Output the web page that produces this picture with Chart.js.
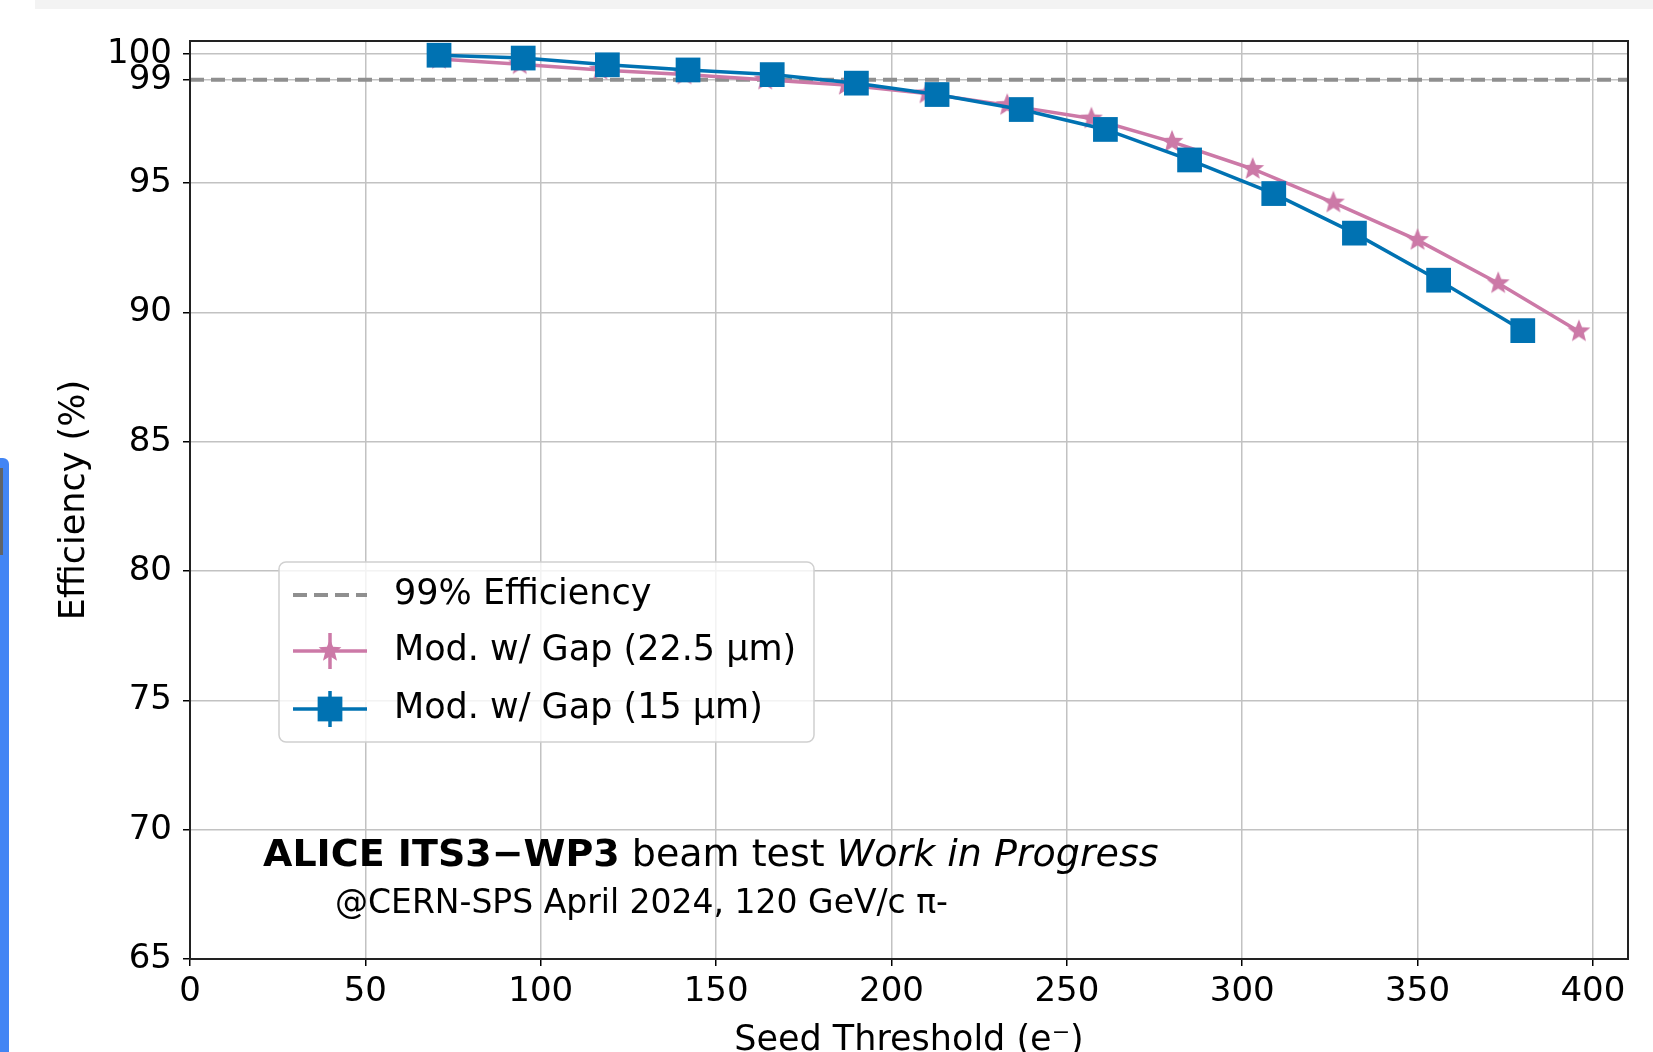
<!DOCTYPE html>
<html>
<head>
<meta charset="utf-8">
<script src="https://cdn.jsdelivr.net/npm/chart.js@4.4.1/dist/chart.umd.min.js"></script>
<style>
  html, body { margin: 0; padding: 0; background: #fff; overflow: hidden; }
  #wrap { position: relative; width: 1653px; height: 1052px; }
  #topband { position: absolute; left: 35px; top: 0; width: 1618px; height: 9px; background: #f3f3f3; }
  #sidebar { position: absolute; left: 0; top: 458px; width: 9px; height: 594px; background: #4285f4; border-top-right-radius: 6px; }
  #sidebar-tab { position: absolute; left: 0; top: 468px; width: 3px; height: 87px; background: #5f6368; }
</style>
</head>
<body>
<div id="wrap">
  <canvas id="chart" width="1653" height="1052"></canvas>
  <div id="topband"></div>
  <div id="sidebar"></div>
  <div id="sidebar-tab"></div>
</div>
<script>
// axis ticks
const xTicks = [0, 50, 100, 150, 200, 250, 300, 350, 400];
const yTicks = [65, 70, 75, 80, 85, 90, 95, 99, 100];

// 99% reference level
const effLevel = 99;

// Mod. w/ Gap (22.5 um)
const gap225Threshold = [71, 94, 117, 141, 164, 187, 210, 233, 257, 280, 303, 326, 350, 373, 396];
const gap225Eff = [99.8, 99.6, 99.38, 99.2, 99.0, 98.8, 98.47, 98.02, 97.5, 96.6, 95.55, 94.25, 92.8, 91.13, 89.27];

// Mod. w/ Gap (15 um)
const gap15Threshold = [71, 95, 119, 142, 166, 190, 213, 237, 261, 285, 309, 332, 356, 380];
const gap15Eff = [99.95, 99.84, 99.58, 99.38, 99.2, 98.87, 98.43, 97.85, 97.08, 95.9, 94.6, 93.07, 91.25, 89.3];

const pink = '#cc79a7';
const blue = '#0072b2';

function makeStar(color, rOuter, rInner) {
  const size = Math.ceil(rOuter * 2 + 4);
  const c = document.createElement('canvas');
  c.width = size; c.height = size;
  const g = c.getContext('2d');
  g.translate(size / 2, size / 2);
  g.beginPath();
  for (let i = 0; i < 10; i++) {
    const a = -Math.PI / 2 + i * Math.PI / 5;
    const r = i % 2 ? rInner : rOuter;
    g.lineTo(Math.cos(a) * r, Math.sin(a) * r);
  }
  g.closePath();
  g.fillStyle = color;
  g.fill();
  return c;
}
const starImg = makeStar(pink, 12, 5.2);

function pts(xs, ys) {
  return xs.map((x, i) => ({ x: x, y: ys[i] }));
}

Chart.defaults.font.family = 'DejaVu Sans';
Chart.defaults.color = '#000';

// frame, legend and annotation text
const decorPlugin = {
  id: 'decor',
  afterDraw(chart) {
    const ctx = chart.ctx;
    const a = chart.chartArea;
    ctx.save();
    ctx.strokeStyle = '#222';
    ctx.lineWidth = 2;
    ctx.strokeRect(a.left, a.top, a.right - a.left, a.bottom - a.top);

    // legend box
    const bx = a.left + 89, by = a.top + 521, bw = 535, bh = 180, rr = 7;
    ctx.beginPath();
    ctx.roundRect(bx, by, bw, bh, rr);
    ctx.fillStyle = 'rgba(255,255,255,0.8)';
    ctx.fill();
    ctx.strokeStyle = '#d0d0d0';
    ctx.lineWidth = 1.5;
    ctx.stroke();

    const rows = [by + 33, by + 89, by + 147];
    const hx0 = bx + 14, hx1 = bx + 88, hc = (hx0 + hx1) / 2;
    chart.data.datasets.forEach((ds, i) => {
      const y = rows[i];
      ctx.save();
      ctx.strokeStyle = ds.borderColor;
      ctx.lineWidth = ds.borderWidth;
      ctx.setLineDash(ds.borderDash || []);
      ctx.beginPath();
      ctx.moveTo(hx0, y);
      ctx.lineTo(hx1, y);
      ctx.stroke();
      ctx.setLineDash([]);
      if (ds.pointRadius > 0) {
        ctx.beginPath();
        ctx.moveTo(hc, y - 18);
        ctx.lineTo(hc, y + 18);
        ctx.stroke();
        if (ds.pointStyle === 'rect') {
          const s = ds.pointRadius * Math.SQRT1_2;
          ctx.fillStyle = ds.backgroundColor;
          ctx.fillRect(hc - s, y - s, 2 * s, 2 * s);
        } else {
          ctx.drawImage(ds.pointStyle, hc - ds.pointStyle.width / 2, y - ds.pointStyle.height / 2);
        }
      }
      ctx.restore();
      ctx.fillStyle = '#000';
      ctx.font = '35px "DejaVu Sans"';
      ctx.textBaseline = 'middle';
      ctx.textAlign = 'left';
      ctx.fillText(ds.label, bx + 115, y);
    });

    // beam test annotation
    let tx = a.left + 73;
    const ty = a.top + 825;
    ctx.textBaseline = 'alphabetic';
    ctx.fillStyle = '#000';
    const parts = [
      ['bold 38px "DejaVu Sans"', 'ALICE ITS3\u2212WP3'],
      ['38px "DejaVu Sans"', ' beam test '],
      ['italic 38px "DejaVu Sans"', 'Work in Progress']
    ];
    parts.forEach(p => {
      ctx.font = p[0];
      ctx.fillText(p[1], tx, ty);
      tx += ctx.measureText(p[1]).width;
    });
    ctx.font = '33px "DejaVu Sans"';
    ctx.fillText('@CERN-SPS April 2024, 120 GeV/c \u03c0-', a.left + 145, a.top + 872);
    ctx.restore();
  }
};

new Chart(document.getElementById('chart'), {
  type: 'scatter',
  data: {
    datasets: [
      {
        label: '99% Efficiency',
        data: [{ x: 0, y: effLevel }, { x: 410, y: effLevel }],
        showLine: true,
        borderColor: '#8f8f8f',
        borderWidth: 4,
        borderDash: [14, 7],
        pointRadius: 0,
        order: 3
      },
      {
        label: 'Mod. w/ Gap (22.5 \u00b5m)',
        data: pts(gap225Threshold, gap225Eff),
        showLine: true,
        borderColor: pink,
        backgroundColor: pink,
        borderWidth: 3.5,
        pointStyle: starImg,
        pointRadius: 12,
        order: 2
      },
      {
        label: 'Mod. w/ Gap (15 \u00b5m)',
        data: pts(gap15Threshold, gap15Eff),
        showLine: true,
        borderColor: blue,
        backgroundColor: blue,
        borderWidth: 3.5,
        pointStyle: 'rect',
        pointRadius: 17.5,
        pointBorderWidth: 0,
        order: 1
      }
    ]
  },
  options: {
    responsive: false,
    animation: false,
    events: [],
    layout: { padding: { top: 41, right: 25, left: 0, bottom: 0 } },
    plugins: {
      legend: { display: false },
      tooltip: { enabled: false }
    },
    scales: {
      x: {
        type: 'linear',
        min: 0,
        max: 410,
        afterBuildTicks: s => { s.ticks = xTicks.map(v => ({ value: v })); },
        afterFit: s => { s.height = 93; },
        ticks: { autoSkip: false, maxRotation: 0, padding: 6, font: { size: 34 }, color: '#000' },
        grid: { color: '#c2c2c2', lineWidth: 1.5, tickLength: 7, tickColor: '#000', tickWidth: 1.5 },
        border: { color: '#222', width: 2 },
        title: {
          display: true,
          text: 'Seed Threshold (e\u207b)',
          font: { size: 35 },
          color: '#000',
          padding: { top: 0, bottom: -10 }
        }
      },
      y: {
        type: 'linear',
        min: 65,
        max: 100.5,
        afterBuildTicks: s => { s.ticks = yTicks.map(v => ({ value: v })); },
        afterFit: s => { s.width = 190; },
        ticks: { autoSkip: false, padding: 11, font: { size: 34 }, color: '#000', callback: v => String(v) },
        grid: { color: '#c2c2c2', lineWidth: 1.5, tickLength: 7, tickColor: '#000', tickWidth: 1.5 },
        border: { color: '#222', width: 2 },
        title: {
          display: true,
          text: 'Efficiency (%)',
          font: { size: 35 },
          color: '#000',
          padding: { top: 54, bottom: 0 }
        }
      }
    }
  },
  plugins: [decorPlugin]
});
</script>
</body>
</html>
